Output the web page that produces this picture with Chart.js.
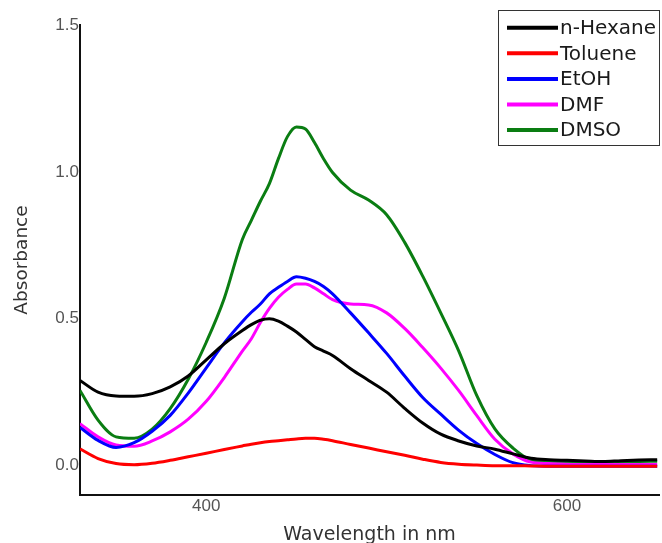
<!DOCTYPE html>
<html>
<head>
<meta charset="utf-8">
<title>Absorption spectra in different solvents</title>
<style>
  html, body { margin: 0; padding: 0; background: #ffffff; }
  #wrap { width: 662px; height: 543px; }
</style>
<script src="https://cdn.jsdelivr.net/npm/chart.js@4/dist/chart.umd.min.js"></script>
</head>
<body>
<div id="wrap"><canvas id="spectra" width="662" height="543"></canvas></div>
<script>
// Wavelength grid (nm) shared by all spectra
const wavelengths = [330, 340, 350, 360, 370, 380, 390, 400, 410, 420,
                     425, 430, 435, 440, 445, 450, 455, 460, 465, 470,
                     480, 490, 500, 510, 520, 530, 540, 550, 560, 570,
                     580, 590, 600, 610, 620, 630, 640, 650];

// Absorbance per solvent
const hexane  = [0.290, 0.250, 0.237, 0.236, 0.245, 0.268, 0.305, 0.360, 0.415, 0.460,
                 0.480, 0.495, 0.500, 0.492, 0.475, 0.455, 0.430, 0.405, 0.390, 0.375,
                 0.330, 0.290, 0.250, 0.195, 0.145, 0.107, 0.084, 0.067, 0.056, 0.040,
                 0.025, 0.020, 0.018, 0.016, 0.014, 0.017, 0.019, 0.020];
const toluene = [0.057, 0.024, 0.007, 0.003, 0.008, 0.018, 0.030, 0.042, 0.055, 0.067,
                 0.073, 0.078, 0.082, 0.085, 0.088, 0.091, 0.093, 0.093, 0.090, 0.085,
                 0.072, 0.060, 0.047, 0.035, 0.022, 0.011, 0.005, 0.002, 0.000, 0.000,
                 -0.001, -0.002, -0.002, -0.002, -0.002, -0.002, -0.002, -0.002];
const ethanol = [0.130, 0.086, 0.062, 0.078, 0.117, 0.171, 0.247, 0.333, 0.418, 0.490,
                 0.522, 0.550, 0.585, 0.607, 0.627, 0.643, 0.638, 0.627, 0.610, 0.585,
                 0.520, 0.452, 0.382, 0.305, 0.232, 0.175, 0.120, 0.075, 0.038, 0.010,
                 0.000, -0.002, -0.002, -0.002, -0.002, -0.002, -0.002, -0.002];
const dmf     = [0.143, 0.098, 0.070, 0.066, 0.084, 0.115, 0.158, 0.219, 0.300, 0.390,
                 0.432, 0.487, 0.535, 0.573, 0.600, 0.618, 0.618, 0.605, 0.585, 0.565,
                 0.550, 0.547, 0.520, 0.467, 0.402, 0.332, 0.255, 0.170, 0.090, 0.040,
                 0.012, 0.007, 0.005, 0.004, 0.004, 0.004, 0.004, 0.004];
const dmso    = [0.256, 0.155, 0.098, 0.093, 0.124, 0.194, 0.294, 0.420, 0.570, 0.770,
                 0.835, 0.900, 0.960, 1.045, 1.120, 1.153, 1.146, 1.100, 1.045, 0.998,
                 0.938, 0.904, 0.854, 0.760, 0.645, 0.520, 0.390, 0.238, 0.125, 0.060,
                 0.020, 0.015, 0.013, 0.012, 0.010, 0.012, 0.014, 0.015];

const seriesNames = ['n-Hexane', 'Toluene', 'EtOH', 'DMF', 'DMSO'];
const seriesValues = [hexane, toluene, ethanol, dmf, dmso];
const seriesColors = ['#000000', '#ff0000', '#0000ff', '#ff00ff', '#0a7d12'];

// Axis ticks
const xTickValues = [400, 600];
const yTickValues = [0.0, 0.5, 1.0, 1.5];

const datasets = seriesNames.map((name, i) => ({
  label: name,
  data: wavelengths.map((w, j) => ({ x: w, y: seriesValues[i][j] })),
  borderColor: seriesColors[i],
  backgroundColor: seriesColors[i],
  borderWidth: 3,
  pointRadius: 0,
  fill: false,
  cubicInterpolationMode: 'monotone'
}));

// Boxed legend in the upper right corner
const boxedLegend = {
  id: 'boxedLegend',
  afterDraw(chart) {
    const ctx = chart.ctx;
    const left = 498.5, top = 10.5, width = 161, height = 135;
    ctx.save();
    ctx.fillStyle = '#ffffff';
    ctx.fillRect(left, top, width, height);
    ctx.strokeStyle = '#333333';
    ctx.lineWidth = 1;
    ctx.strokeRect(left, top, width, height);
    ctx.font = '20px "DejaVu Sans"';
    ctx.textAlign = 'left';
    ctx.textBaseline = 'middle';
    chart.data.datasets.forEach((ds, i) => {
      const y = 27.7 + i * 25.6;
      ctx.strokeStyle = ds.borderColor;
      ctx.lineWidth = 4;
      ctx.beginPath();
      ctx.moveTo(507, y);
      ctx.lineTo(558, y);
      ctx.stroke();
      ctx.fillStyle = '#1a1a1a';
      ctx.fillText(ds.label, 560, y + 1);
    });
    ctx.restore();
  }
};

new Chart(document.getElementById('spectra'), {
  type: 'line',
  data: { datasets },
  plugins: [boxedLegend],
  options: {
    responsive: false,
    animation: false,
    devicePixelRatio: 1,
    layout: { padding: { top: 25, right: 3, bottom: 0, left: 0 } },
    plugins: {
      legend: { display: false },
      tooltip: { enabled: false }
    },
    scales: {
      x: {
        type: 'linear',
        min: 330,
        max: 651,
        afterBuildTicks: s => { s.ticks = xTickValues.map(v => ({ value: v })); },
        afterFit: s => { s.height = 48; },
        grid: { drawOnChartArea: false, drawTicks: false },
        border: { display: true, color: '#111111', width: 2 },
        ticks: {
          padding: 1,
          color: '#555555',
          font: { family: '"Liberation Sans", Arial, sans-serif', size: 17 },
          callback: v => String(v)
        },
        title: {
          display: true,
          text: 'Wavelength in nm',
          color: '#333333',
          font: { family: '"DejaVu Sans"', size: 19, lineHeight: 0.84 },
          padding: { top: 0, bottom: 0 }
        }
      },
      y: {
        type: 'linear',
        min: -0.1,
        max: 1.5,
        afterBuildTicks: s => { s.ticks = yTickValues.map(v => ({ value: v })); },
        afterFit: s => { s.width = 80; },
        grid: { drawOnChartArea: false, drawTicks: false },
        border: { display: true, color: '#111111', width: 2 },
        ticks: {
          padding: 1,
          color: '#555555',
          font: { family: '"Liberation Sans", Arial, sans-serif', size: 17 },
          callback: v => Number(v).toFixed(1)
        },
        title: {
          display: true,
          text: 'Absorbance',
          color: '#333333',
          font: { family: '"DejaVu Sans"', size: 18.5, lineHeight: 1.2 },
          padding: { top: 11, bottom: 0 }
        }
      }
    }
  }
});
</script>
</body>
</html>
